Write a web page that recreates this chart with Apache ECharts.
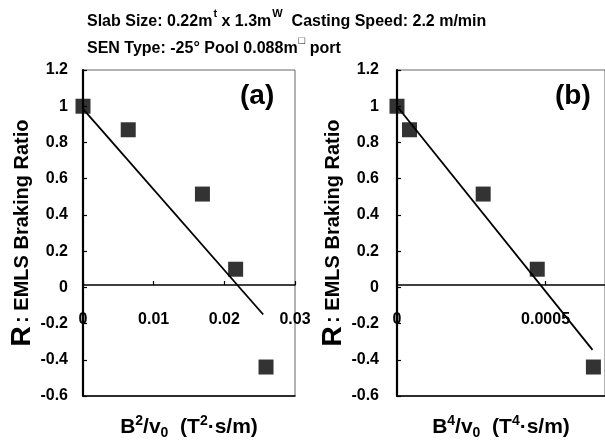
<!DOCTYPE html>
<html><head><meta charset="utf-8">
<script src="https://cdn.jsdelivr.net/npm/echarts@6/dist/echarts.min.js"></script>
<style>html,body{margin:0;padding:0;background:#fff}#c{width:605px;height:445px}</style>
</head><body><div id="c"></div>
<script>
// Panel (a): R vs B^2/v0
const xA = [0, 0.0064, 0.0169, 0.0216, 0.0259];
const yA = [1.0, 0.87, 0.515, 0.10, -0.44];
const fitA = [[0, 0.985], [0.0255, -0.15]];
// Panel (b): R vs B^4/v0
const xB = [0, 0.000042, 0.00029, 0.000472, 0.000661];
const yB = [1.0, 0.87, 0.515, 0.10, -0.44];
const fitB = [[0, 1.0], [0.000658, -0.345]];
const yTicks = { min: -0.6, max: 1.2, interval: 0.2 };
const xTicksA = { min: 0, max: 0.03, interval: 0.01 };
const xTicksB = { min: 0, max: 0.0007, interval: 0.0005 };

const FONT = '"Liberation Sans", Arial, sans-serif';
const GRID_TOP = 70, GRID_H = 333;
const zeroOffset = -GRID_H * (0 - yTicks.min) / (yTicks.max - yTicks.min); // move label axis up to y = 0
const chart = echarts.init(document.getElementById('c'), null, { renderer: 'canvas' });
const pts = (xs, ys) => xs.map((x, i) => [x, ys[i]]);

function yAxisFor(gi, margin, gap) {
  return {
    type: 'value', gridIndex: gi, min: yTicks.min, max: yTicks.max, interval: yTicks.interval,
    axisLine: { show: true, onZero: false, lineStyle: { color: '#000', width: 2.2 } },
    axisTick: { show: true, inside: true, length: 4, lineStyle: { color: '#000', width: 1.2 } },
    splitLine: { show: false },
    axisLabel: { color: '#000', fontFamily: FONT, fontWeight: 'bold', fontSize: 16, margin: margin,
      formatter: v => String(Math.round(v * 10) / 10) },
    name: '{r|R} {t|: EMLS Braking Ratio}', nameLocation: 'middle', nameGap: gap, nameRotate: 90,
    nameTextStyle: { rich: {
      r: { fontFamily: FONT, fontWeight: 'bold', fontSize: 28, color: '#000' },
      t: { fontFamily: FONT, fontWeight: 'bold', fontSize: 20, color: '#000' } } }
  };
}
function xAxisFor(gi, t, fmt, showMax) {
  return {
    type: 'value', gridIndex: gi, min: t.min, max: t.max, interval: t.interval, position: 'bottom',
    offset: zeroOffset,
    axisLine: { show: true, onZero: false, lineStyle: { color: '#000', width: 1.6 } },
    axisTick: { show: true, inside: true, length: 4, lineStyle: { color: '#000', width: 1.2 } },
    splitLine: { show: false },
    axisLabel: { color: '#000', fontFamily: FONT, fontWeight: 'bold', fontSize: 16, margin: 27,
      showMaxLabel: showMax, formatter: fmt }
  };
}
function xNameAxis(gi, t, sup) {
  return {
    type: 'value', gridIndex: gi, min: t.min, max: t.max, position: 'bottom',
    axisLine: { show: true, onZero: false, lineStyle: { color: '#000', width: 1.5 } },
    axisTick: { show: false }, axisLabel: { show: false }, splitLine: { show: false },
    name: '{b|B}{s|' + sup + '}{b|/v}{d|0}{b|  (T}{s|' + sup + '}{b|·s/m)}',
    nameLocation: 'middle', nameGap: 18,
    nameTextStyle: { rich: {
      b: { fontFamily: FONT, fontWeight: 'bold', fontSize: 21, color: '#000' },
      s: { fontFamily: FONT, fontWeight: 'bold', fontSize: 14, color: '#000', verticalAlign: 'bottom', padding: [0, 0, 12, 0] },
      d: { fontFamily: FONT, fontWeight: 'bold', fontSize: 14, color: '#000', verticalAlign: 'top', padding: [12, 0, 0, 0] } } }
  };
}
const sq = { color: '#000' };
chart.setOption({
  animation: false,
  backgroundColor: '#fff',
  title: {
    left: 87, top: 8, padding: 0,
    text: 'Slab Size: 0.22m{s|t} x 1.3m{s|W}  Casting Speed: 2.2 m/min\nSEN Type: -25° Pool 0.088m{s|□} port',
    textStyle: { fontFamily: FONT, fontWeight: 'bold', fontSize: 16, color: '#000', lineHeight: 27,
      rich: { s: { fontFamily: FONT, fontWeight: 'bold', fontSize: 11, color: '#000', verticalAlign: 'top', padding: [0, 0, 0, 1], lineHeight: 27 } } }
  },
  graphic: [
    { type: 'text', left: 240, top: 82, style: { text: '(a)', fontFamily: FONT, fontWeight: 'bold', fontSize: 28, fill: '#000' } },
    { type: 'text', left: 555, top: 82, style: { text: '(b)', fontFamily: FONT, fontWeight: 'bold', fontSize: 28, fill: '#000' } }
  ],
  grid: [
    { left: 83, top: GRID_TOP, width: 212, height: GRID_H, show: true, borderColor: '#666', borderWidth: 1 },
    { left: 397, top: GRID_TOP, width: 210, height: GRID_H, show: true, borderColor: '#666', borderWidth: 1 }
  ],
  xAxis: [
    xAxisFor(0, xTicksA, v => v === 0 ? '0' : v.toFixed(2), true),
    xAxisFor(1, xTicksB, v => v === 0 ? '0' : v.toFixed(4), false),
    xNameAxis(0, xTicksA, '2'),
    xNameAxis(1, xTicksB, '4')
  ],
  yAxis: [yAxisFor(0, 15, 37), yAxisFor(1, 18, 46)],
  series: [
    { type: 'scatter', xAxisIndex: 0, yAxisIndex: 0, symbol: 'rect', symbolSize: 15, itemStyle: sq, data: pts(xA, yA), z: 5 },
    { type: 'line', xAxisIndex: 0, yAxisIndex: 0, symbol: 'none', lineStyle: { color: '#000', width: 1.8 }, data: fitA },
    { type: 'scatter', xAxisIndex: 1, yAxisIndex: 1, symbol: 'rect', symbolSize: 15, itemStyle: sq, data: pts(xB, yB), z: 5 },
    { type: 'line', xAxisIndex: 1, yAxisIndex: 1, symbol: 'none', lineStyle: { color: '#000', width: 1.8 }, data: fitB }
  ]
});
</script></body></html>
